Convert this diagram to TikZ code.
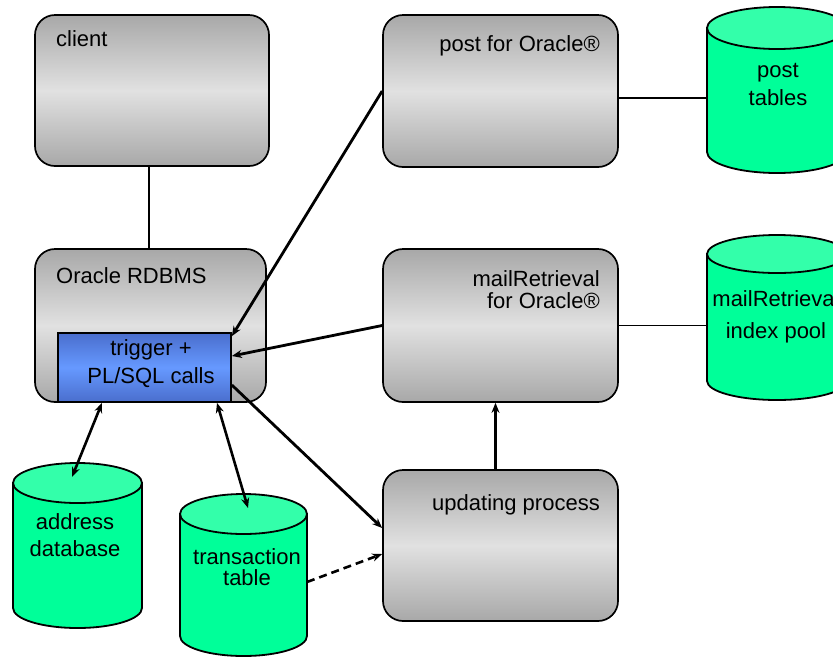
\documentclass[tikz,border=0pt]{standalone}
\usepackage{fontspec}
\setmainfont{Liberation Sans}
\usetikzlibrary{arrows.meta}
\definecolor{grayedge}{RGB}{168,168,168}
\definecolor{graymid}{RGB}{225,225,225}
\definecolor{blueedge}{RGB}{74,110,205}
\definecolor{bluemid}{RGB}{102,153,255}
\definecolor{cylbodyc}{RGB}{0,255,153}
\definecolor{cyltopc}{RGB}{51,255,170}
% #1 cx, #2 top ellipse centre y, #3 bottom ellipse centre y, #4 rx, #5 ry
\newcommand{\dbcyl}[5]{%
  \filldraw[cylbody] (#1-#4,#2) -- (#1-#4,#3)
    arc[start angle=180,end angle=360,x radius=#4pt,y radius=#5pt]
    -- (#1+#4,#2) -- cycle;
  \filldraw[cyltop] (#1,#2) ellipse[x radius=#4pt,y radius=#5pt];
}
\begin{document}
\begin{tikzpicture}[x=1pt,y=-1pt,
  graybox/.style={draw=black, line width=1.7pt, rounded corners=20pt,
    top color=grayedge, bottom color=grayedge, middle color=graymid, inner sep=0pt},
  bluebox/.style={draw=black, line width=1.7pt,
    top color=blueedge, bottom color=blueedge, middle color=bluemid, inner sep=0pt},
  lbl/.style={inner sep=0pt, font=\fontsize{22}{26}\selectfont},
  cylbody/.style={draw=black, line width=1.8pt, fill=cylbodyc},
  cyltop/.style={draw=black, line width=1.8pt, fill=cyltopc},
  thinline/.style={draw=black, line width=1.6pt},
  arr/.style={line width=2.8pt, -{Stealth[length=10pt,width=8pt]}},
  darr/.style={line width=2.6pt, {Stealth[length=10pt,width=8pt]}-{Stealth[length=10pt,width=8pt]}},
  dasharr/.style={line width=2.6pt, dash pattern=on 8pt off 5pt, -{Stealth[length=10pt,width=8pt]}},
]
\useasboundingbox (0,0) rectangle (833,657);

% boxes
\node[graybox, minimum width=234pt, minimum height=151pt] (client) at (152,90.5) {};
\node[graybox, minimum width=231pt, minimum height=153pt] (rdbms) at (150.5,325.5) {};
\node[bluebox, minimum width=173pt, minimum height=69pt] (trig) at (144.5,367.5) {};
\node[graybox, minimum width=235pt, minimum height=152pt] (post) at (500.5,91) {};
\node[graybox, minimum width=235pt, minimum height=153pt] (mail) at (500.5,325.5) {};
\node[graybox, minimum width=235pt, minimum height=151pt] (upd) at (500.5,545.5) {};

% box labels
\node[lbl, anchor=base west] (client-t) at (56,46) {client};
\node[lbl, anchor=base west] (rdbms-t) at (56,283) {Oracle RDBMS};
\node[lbl, align=center, font=\fontsize{22}{28}\selectfont] (trig-t) at (151,364) {trigger +\\PL/SQL calls};
\node[lbl, anchor=base east] (post-t) at (600,51) {post for Oracle®};
\node[lbl, align=right, anchor=east, font=\fontsize{22}{22.5}\selectfont] (mail-t) at (600,289.5) {mailRetrieval\\for Oracle®};
\node[lbl, anchor=base east] (upd-t) at (600,510.5) {updating process};

% cylinders
\dbcyl{777}{28}{152}{70}{21}
\dbcyl{777}{254}{381}{70}{19}
\dbcyl{77.5}{483}{608}{64.5}{20}
\dbcyl{243.5}{514}{636}{63.5}{20}

\node[lbl, align=center, font=\fontsize{22}{27.5}\selectfont] (postdb-t) at (778,84.5) {post\\tables};
\node[lbl, align=center, font=\fontsize{22}{32}\selectfont] (maildb-t) at (776,316.5) {mailRetrieval\\index pool};
\node[lbl, align=center, font=\fontsize{22}{27}\selectfont] (addrdb-t) at (75,535.5) {address\\database};
\node[lbl, align=center, font=\fontsize{22}{21.5}\selectfont] (transdb-t) at (247,567) {transaction\\table};

\coordinate (postdb-w) at (707,98);
\coordinate (maildb-w) at (707,325.5);
\coordinate (addrdb-top) at (72,477);
\coordinate (transdb-top) at (248,508);
\coordinate (transdb-e) at (307,582);

% connectors
\draw[thinline] ([xshift=-3pt]client.south) -- ([xshift=-3pt]client.south |- rdbms.north);
\draw[thinline] (postdb-w -| post.east) -- (postdb-w);
\draw[thinline] (mail.east) -- (maildb-w);
\draw[arr, line width=2.5pt] ([xshift=-5pt]upd.north) -- ([xshift=-5pt]mail.south);
\draw[arr] (post.west) -- ([yshift=-4pt]trig.north east);
\draw[arr] (mail.west) -- ([yshift=11.5pt]trig.east);
\draw[arr] ([yshift=-17.5pt]trig.east) -- ([yshift=17.5pt]upd.west);
\draw[darr] ([xshift=-42.5pt]trig.south) -- (addrdb-top);
\draw[darr] ([xshift=72.5pt]trig.south) -- (transdb-top);
\draw[dasharr] (transdb-e) -- ([yshift=-8.5pt]upd.west);
\end{tikzpicture}
\end{document}
